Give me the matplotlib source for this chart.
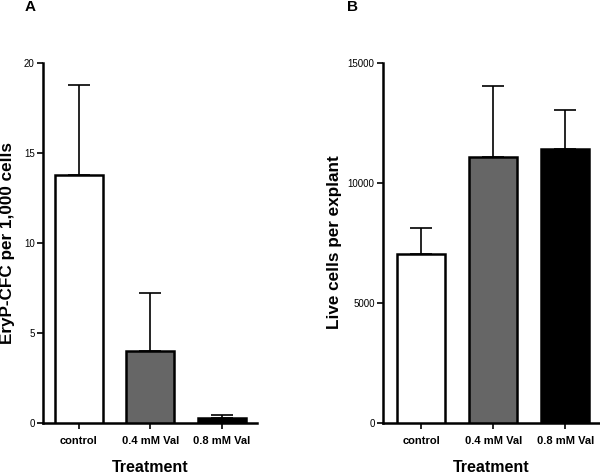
import matplotlib
matplotlib.use("Agg")
import matplotlib.pyplot as plt

categories = ["control", "0.4 mM Val", "0.8 mM Val"]
colors = ["white", "#666666", "black"]

a_values = [13.8, 4.0, 0.3]
a_err = [5.0, 3.2, 0.14]
a_ticks = [0, 5, 10, 15, 20]

b_values = [7030, 11100, 11420]
b_err = [1110, 2940, 1610]
b_ticks = [0, 5000, 10000, 15000]

plt.rcParams['font.family'] = ['Liberation Sans', 'DejaVu Sans']

W, H = 600, 475
fig = plt.figure(figsize=(6, 4.75), dpi=100)

def px_axes(l, r, t, b):
    return fig.add_axes([l / W, (H - b) / H, (r - l) / W, (b - t) / H])

def draw(ax, vals, errs, ticks, ylim, xlim):
    x = list(range(len(categories)))
    ax.bar(x, vals, width=0.67, color=colors, edgecolor="black", linewidth=1.8, zorder=3)
    ax.errorbar(x, vals, yerr=[[0] * len(errs), errs], fmt="none", ecolor="black",
                elinewidth=1.2, capsize=8, capthick=1.2, zorder=2)
    ax.set_xlim(*xlim)
    ax.set_ylim(*ylim)
    ax.set_yticks(ticks)
    ax.set_yticklabels([str(t) for t in ticks], fontsize=7)
    ax.set_xticks(x)
    ax.set_xticklabels(categories, fontsize=8, fontweight="bold")
    for s in ["top", "right"]:
        ax.spines[s].set_visible(False)
    for s in ["left", "bottom"]:
        ax.spines[s].set_linewidth(1.8)
    ax.tick_params(axis="both", width=1.2, length=4, pad=2)
    ax.tick_params(axis="x", pad=5)

axA = px_axes(43, 257, 63, 423)
draw(axA, a_values, a_err, a_ticks, (0, 20), (-0.5, 2.49))
axB = px_axes(383, 599, 63, 423)
draw(axB, b_values, b_err, b_ticks, (0, 15000), (-0.53, 2.47))

fig.text(8 / W, 1 - 243 / H, "EryP-CFC per 1,000 cells", rotation=90, ha="center", va="center",
         fontsize=12.3, fontweight="bold")
fig.text(334 / W, 1 - 242 / H, "Live cells per explant", rotation=90, ha="center", va="center",
         fontsize=12.3, fontweight="bold")
fig.text(150 / W, 1 - 467 / H, "Treatment", ha="center", va="center", fontsize=11.5, fontweight="bold")
fig.text(491 / W, 1 - 467 / H, "Treatment", ha="center", va="center", fontsize=11.5, fontweight="bold")
fig.text(30 / W, 1 - 7 / H, "A", ha="center", va="center", fontsize=11, fontweight="bold")
fig.text(352 / W, 1 - 7 / H, "B", ha="center", va="center", fontsize=11, fontweight="bold")

fig.savefig("out.png", dpi=100)
